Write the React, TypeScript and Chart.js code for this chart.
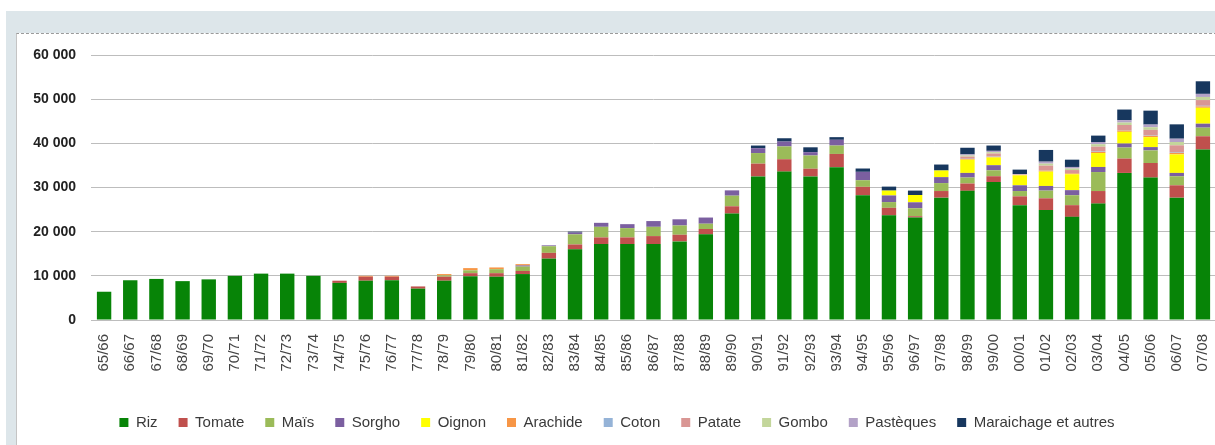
import React, { useEffect, useRef } from "react";
import { Chart, registerables } from "chart.js";

Chart.register(...registerables);

const categories = [
  "65/66", "66/67", "67/68", "68/69", "69/70", "70/71", "71/72", "72/73", "73/74", "74/75",
  "75/76", "76/77", "77/78", "78/79", "79/80", "80/81", "81/82", "82/83", "83/84", "84/85",
  "85/86", "86/87", "87/88", "88/89", "89/90", "90/91", "91/92", "92/93", "93/94", "94/95",
  "95/96", "96/97", "97/98", "98/99", "99/00", "00/01", "01/02", "02/03", "03/04", "04/05",
  "05/06", "06/07", "07/08",
];

const riz = [
  6400, 9000, 9300, 8800, 9200, 10000, 10500, 10500, 10000, 8400,
  8900, 9000, 7100, 8900, 9900, 9800, 10400, 13900, 16000, 17200,
  17200, 17200, 17800, 19400, 24100, 32500, 33600, 32500, 34600, 28250,
  23700, 23200, 27700, 29250, 31250, 26000, 24900, 23350, 26350, 33300,
  32250, 27700, 38600,
];
const tomate = [
  0, 0, 0, 0, 0, 0, 0, 0, 0, 500,
  900, 800, 500, 900, 700, 800, 700, 1300, 1100, 1500,
  1500, 1800, 1500, 1200, 1650, 2900, 2800, 1750, 3000, 1900,
  1700, 300, 1500, 1650, 1300, 2000, 2650, 2650, 2850, 3250,
  3300, 2800, 3000,
];
const mais = [
  0, 0, 0, 0, 0, 0, 0, 0, 0, 0,
  0, 0, 0, 300, 650, 900, 1000, 1500, 2300, 2400,
  2100, 2100, 2100, 1200, 2400, 2400, 2900, 3000, 1900, 1500,
  1300, 1800, 1800, 1350, 1350, 1200, 1750, 2250, 4300, 2500,
  2850, 2050, 1950,
];
const sorgho = [
  0, 0, 0, 0, 0, 0, 0, 0, 0, 0,
  0, 0, 0, 0, 0, 0, 250, 200, 400, 900,
  900, 1300, 1400, 1400, 1200, 1100, 1100, 750, 1300, 1900,
  1500, 1350, 1350, 1050, 1150, 1300, 1050, 1150, 1150, 900,
  750, 750, 900,
];
const oignon = [
  0, 0, 0, 0, 0, 0, 0, 0, 0, 0,
  0, 0, 0, 0, 0, 0, 0, 0, 0, 0,
  0, 0, 0, 0, 0, 0, 0, 0, 0, 0,
  1100, 1650, 1500, 3000, 1750, 2250, 3250, 3600, 3150, 2650,
  2250, 4200, 3600,
];
const arachide = [
  0, 0, 0, 0, 0, 0, 0, 0, 0, 0,
  200, 200, 0, 300, 500, 400, 300, 0, 0, 0,
  0, 0, 0, 0, 0, 0, 0, 0, 0, 0,
  0, 0, 0, 150, 150, 50, 250, 200, 250, 300,
  300, 350, 300,
];
const coton = [
  0, 0, 0, 0, 0, 0, 0, 0, 0, 0,
  0, 0, 0, 0, 0, 0, 0, 0, 0, 0,
  0, 0, 0, 0, 0, 0, 0, 0, 0, 0,
  0, 0, 0, 50, 100, 0, 100, 50, 100, 100,
  100, 150, 150,
];
const patate = [
  0, 0, 0, 0, 0, 0, 0, 0, 0, 0,
  0, 0, 0, 0, 0, 0, 0, 0, 0, 0,
  0, 0, 0, 0, 0, 0, 0, 0, 0, 0,
  0, 0, 0, 500, 650, 150, 1000, 700, 1100, 1150,
  1250, 1550, 1300,
];
const gombo = [
  0, 0, 0, 0, 0, 0, 0, 0, 0, 0,
  0, 0, 0, 0, 0, 0, 0, 0, 0, 0,
  0, 0, 0, 0, 0, 0, 0, 0, 0, 0,
  0, 0, 0, 250, 300, 50, 450, 350, 550, 550,
  600, 750, 700,
];
const pasteques = [
  0, 0, 0, 0, 0, 0, 0, 0, 0, 0,
  0, 0, 0, 0, 0, 0, 0, 0, 0, 0,
  0, 0, 0, 0, 0, 0, 0, 0, 0, 0,
  0, 0, 0, 250, 300, 50, 450, 350, 500, 550,
  600, 750, 700,
];
const maraichage = [
  0, 0, 0, 0, 0, 0, 0, 0, 0, 0,
  0, 0, 0, 0, 0, 0, 0, 0, 200, 0,
  0, 0, 0, 0, 0, 600, 750, 1100, 600, 750,
  900, 1000, 1350, 1500, 1200, 1000, 2650, 1650, 1450, 2400,
  3150, 3250, 2850,
];

const yTicks = [0, 10000, 20000, 30000, 40000, 50000, 60000];

const seriesNames = [
  "Riz", "Tomate", "Maïs", "Sorgho", "Oignon", "Arachide", "Coton", "Patate", "Gombo", "Pastèques", "Maraichage et autres",
];
const seriesData = [riz, tomate, mais, sorgho, oignon, arachide, coton, patate, gombo, pasteques, maraichage];
const seriesColors = [
  "#078407", "#c0504d", "#9bbb59", "#7b5fa0", "#ffff00", "#f79646", "#95b3d7", "#d99694", "#c3d69b", "#b3a2c7", "#17375e",
];

export default function App() {
  const ref = useRef<HTMLCanvasElement | null>(null);

  useEffect(() => {
    if (!ref.current) return;
    const chart = new Chart(ref.current, {
      type: "bar",
      data: {
        labels: categories,
        datasets: seriesNames.map((name, i) => ({
          label: name,
          data: seriesData[i],
          backgroundColor: seriesColors[i],
          borderWidth: 0,
          categoryPercentage: 1,
          barPercentage: 0.55,
        })),
      },
      options: {
        animation: false,
        responsive: false,
        maintainAspectRatio: false,
        layout: { padding: { top: 55, right: 12, left: 18, bottom: 0 } },
        plugins: {
          tooltip: { enabled: false },
          legend: {
            position: "bottom",
            labels: {
              boxWidth: 9,
              boxHeight: 9,
              padding: 21,
              color: "#3a3a3a",
              font: { family: "'Liberation Sans', Arial, sans-serif", size: 15 },
            },
          },
        },
        scales: {
          x: {
            stacked: true,
            grid: { display: false },
            border: { display: true, color: "#bdbdbd", width: 1 },
            ticks: {
              autoSkip: false,
              maxRotation: 90,
              minRotation: 90,
              padding: 6,
              color: "#444444",
              font: { family: "'Liberation Sans', Arial, sans-serif", size: 15 },
            },
            afterFit: (scale: any) => {
              scale.height = 74;
            },
          },
          y: {
            stacked: true,
            min: 0,
            max: 60000,
            afterBuildTicks: (scale: any) => {
              scale.ticks = yTicks.map((v) => ({ value: v }));
            },
            grid: { color: "#bdbdbd", lineWidth: 1, drawTicks: false },
            border: { display: false },
            ticks: {
              padding: 15,
              color: "#222222",
              font: { family: "'Liberation Sans', Arial, sans-serif", size: 14, weight: "bold" },
              callback: (v: any) => {
                const n = Number(v);
                return n === 0 ? "0" : String(n).replace(/\B(?=(\d{3})+(?!\d))/g, " ");
              },
            },
            afterFit: (scale: any) => {
              scale.width = 73;
            },
          },
        },
      },
    });
    return () => chart.destroy();
  }, []);

  return (
    <div style={{ position: "absolute", left: 0, top: 0, width: 1215, height: 445, overflow: "hidden", background: "#ffffff" }}>
      <div style={{ position: "absolute", left: 6, top: 11, width: 1220, height: 440, background: "#dde6ea" }} />
      <div
        style={{
          position: "absolute",
          left: 16,
          top: 33,
          width: 1215,
          height: 420,
          background: "#ffffff",
          borderTop: "1px dashed #9a9a9a",
          borderLeft: "1px solid #c4c4c4",
        }}
      />
      <canvas ref={ref} width={1228} height={440} style={{ position: "absolute", left: 0, top: 0, width: 1228, height: 440 }} />
    </div>
  );
}
